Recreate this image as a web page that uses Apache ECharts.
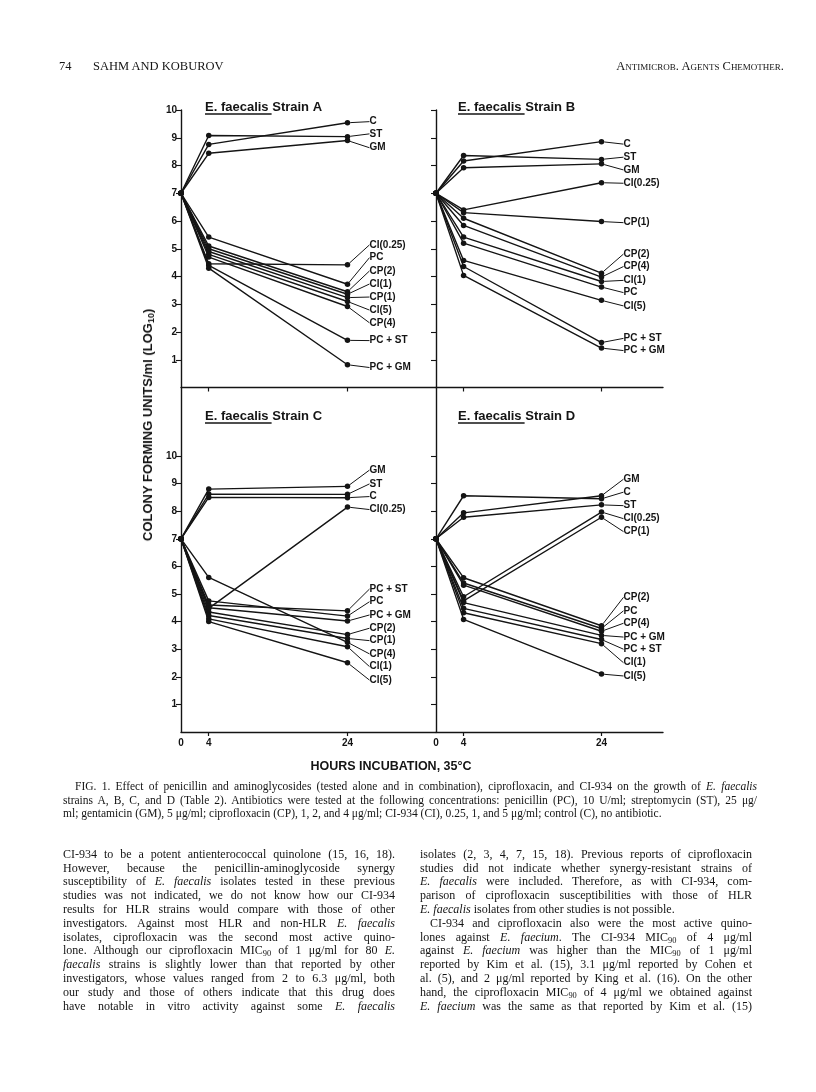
<!DOCTYPE html>
<html>
<head>
<meta charset="utf-8">
<script src="https://cdn.jsdelivr.net/npm/echarts@6/dist/echarts.min.js"></script>
<style>
  html, body { margin: 0; padding: 0; background: #fff; }
  #page { position: relative; width: 816px; height: 1092px; overflow: hidden; background: #fff; }
  #chart { position: absolute; left: 0; top: 0; width: 816px; height: 1092px; }
  .ln { position: absolute; font-family: "Liberation Serif", "DejaVu Serif", serif; color: #141414; white-space: nowrap; }
  .ln > span { display: inline-block; white-space: nowrap; transform-origin: 0 50%; }
  #yname { position: absolute; left: 148px; top: 425px; transform: translate(-50%, -50%) rotate(-90deg);
           font-family: "Liberation Sans", Arial, sans-serif; font-weight: bold; font-size: 13px; color: #141414; white-space: nowrap; }
  #yname sub { font-size: 9px; vertical-align: -2px; }
</style>
</head>
<body>
<div id="page">
  <div id="chart"></div>
  <div id="yname">COLONY FORMING UNITS/ml (LOG<sub>10</sub>)</div>
</div>
<script>
// ---------------- DATA ----------------
const hours = [0, 4, 24];
const startLog = 7;

// Strain A
const namesA = ['C', 'ST', 'GM', 'CI(0.25)', 'PC', 'CP(2)', 'CI(1)', 'CP(1)', 'CI(5)', 'CP(4)', 'PC + ST', 'PC + GM'];
const h4A    = [8.76, 9.08, 8.44, 4.46, 5.42, 5.10, 5.00, 4.90, 4.80, 4.70, 4.40, 4.30];
const h24A   = [9.54, 9.04, 8.90, 4.42, 3.72, 3.45, 3.36, 3.24, 3.10, 2.92, 1.70, 0.82];

// Strain B
const namesB = ['C', 'ST', 'GM', 'CI(0.25)', 'CP(1)', 'CP(2)', 'CP(4)', 'CI(1)', 'PC', 'CI(5)', 'PC + ST', 'PC + GM'];
const h4B    = [8.16, 8.36, 7.92, 6.40, 6.30, 6.10, 5.84, 5.42, 5.20, 4.58, 4.36, 4.04];
const h24B   = [8.86, 8.22, 8.06, 7.38, 5.98, 4.12, 3.98, 3.82, 3.62, 3.14, 1.62, 1.42];

// Strain C
const namesC = ['GM', 'ST', 'C', 'CI(0.25)', 'PC + ST', 'PC', 'PC + GM', 'CP(2)', 'CP(1)', 'CP(4)', 'CI(1)', 'CI(5)'];
const h4C    = [8.80, 8.62, 8.50, 4.48, 4.60, 4.75, 4.50, 4.35, 4.22, 5.60, 4.10, 4.00];
const h24C   = [8.90, 8.61, 8.49, 8.15, 4.39, 4.20, 4.02, 3.53, 3.39, 3.25, 3.09, 2.51];

// Strain D
const namesD = ['GM', 'C', 'ST', 'CI(0.25)', 'CP(1)', 'CP(2)', 'PC', 'CP(4)', 'PC + GM', 'PC + ST', 'CI(1)', 'CI(5)'];
const h4D    = [7.94, 8.56, 7.78, 4.90, 4.75, 5.59, 5.40, 5.32, 4.69, 4.48, 4.32, 4.08];
const h24D   = [8.56, 8.45, 8.23, 7.97, 7.78, 3.85, 3.75, 3.65, 3.50, 3.35, 3.20, 2.10];

const yTickValues = [1, 2, 3, 4, 5, 6, 7, 8, 9, 10];
const xTickValues = [4, 24];
const xLabelValues = [0, 4, 24];

// ---------------- LAYOUT (positions of series labels, in log units) ----------------
const labelPosA = [9.58, 9.14, 8.64, 5.14, 4.68, 4.20, 3.73, 3.26, 2.79, 2.33, 1.69, 0.72];
const labelPosB = [8.77, 8.30, 7.84, 7.36, 5.94, 4.81, 4.36, 3.86, 3.42, 2.94, 1.77, 1.33];
const labelPosC = [9.49, 8.99, 8.53, 8.06, 5.18, 4.72, 4.24, 3.76, 3.31, 2.83, 2.37, 1.88];
const labelPosD = [9.16, 8.69, 8.20, 7.73, 7.26, 4.88, 4.39, 3.94, 3.44, 3.00, 2.51, 2.03];

const SANS = '"Liberation Sans", Arial, sans-serif';
const INK = '#141414';

const panels = [
  { names: namesA, h4: h4A, h24: h24A, lab: labelPosA, title: 'E. faecalis Strain A',
    grid: { left: 181, top: 110, width: 255, height: 277.5 }, xmax: 36.76, ymax: 10, yLab: true, xLab: false, tx: 205, ty: 101, uy: 114 },
  { names: namesB, h4: h4B, h24: h24B, lab: labelPosB, title: 'E. faecalis Strain B',
    grid: { left: 436, top: 110, width: 227, height: 277.5 }, xmax: 32.92, ymax: 10, yLab: false, xLab: false, tx: 458, ty: 101, uy: 114 },
  { names: namesC, h4: h4C, h24: h24C, lab: labelPosC, title: 'E. faecalis Strain C',
    grid: { left: 181, top: 388, width: 255, height: 344 }, xmax: 36.76, ymax: 12.464, yLab: true, xLab: true, tx: 205, ty: 410, uy: 423 },
  { names: namesD, h4: h4D, h24: h24D, lab: labelPosD, title: 'E. faecalis Strain D',
    grid: { left: 436, top: 388, width: 227, height: 344 }, xmax: 32.92, ymax: 12.464, yLab: false, xLab: true, tx: 458, ty: 410, uy: 423 }
];

function textWidth(t, font) {
  const c = document.createElement('canvas').getContext('2d');
  c.font = font;
  return c.measureText(t).width;
}
const uw = textWidth('E. faecalis', 'bold 13px "Liberation Sans"') + 3;

const grids = panels.map(p => Object.assign({ outerBoundsMode: 'none', containLabel: false }, p.grid));
const axisLineStyle = { color: INK, width: 1.4 };

const xAxes = panels.map((p, i) => ({
  type: 'value', gridIndex: i, min: 0, max: p.xmax, interval: 4,
  axisLine: { show: true, onZero: false, lineStyle: axisLineStyle },
  axisTick: { show: true, customValues: xTickValues, length: 4, inside: false, lineStyle: { color: INK, width: 1.2 } },
  axisLabel: { show: p.xLab, customValues: xLabelValues, color: INK, fontFamily: SANS, fontSize: 10, fontWeight: 'bold', margin: 6 },
  splitLine: { show: false }
}));

const yAxes = panels.map((p, i) => ({
  type: 'value', gridIndex: i, min: 0, max: p.ymax, interval: 1,
  axisLine: { show: true, onZero: false, lineStyle: axisLineStyle },
  axisTick: { show: true, customValues: yTickValues, length: 5, inside: false, lineStyle: { color: INK, width: 1.1 } },
  axisLabel: { show: p.yLab, customValues: yTickValues, color: INK, fontFamily: SANS, fontSize: 10, fontWeight: 'bold', margin: 4 },
  splitLine: { show: false }
}));

const series = [];
panels.forEach((p, i) => {
  p.names.forEach((nm, k) => {
    const labY = p.grid.top + p.grid.height * (1 - p.lab[k] / p.ymax);
    series.push({
      type: 'line', name: nm, xAxisIndex: i, yAxisIndex: i,
      data: [[hours[0], startLog], [hours[1], p.h4[k]], { value: [hours[2], p.h24[k]], label: { show: true } }],
      symbol: 'circle', symbolSize: 5.5, showSymbol: true,
      lineStyle: { color: INK, width: 1.4 },
      itemStyle: { color: INK },
      label: { show: false, formatter: nm, color: INK, fontFamily: SANS, fontSize: 10, fontWeight: 'bold' },
      labelLine: { show: true, lineStyle: { color: INK, width: 1 } },
      labelLayout: function (params) {
        if (params.dataIndex !== 2) return {};
        return { x: params.rect.x + params.rect.width / 2 + 22, y: labY, align: 'left', verticalAlign: 'middle' };
      },
      emphasis: { disabled: true },
      silent: true,
      animation: false
    });
  });
});

const titles = panels.map(p => ({
  text: p.title, left: p.tx, top: p.ty, padding: 0,
  textStyle: { fontFamily: SANS, fontSize: 13, fontWeight: 'bold', color: INK }
}));

const graphic = panels.map(p => ({
  type: 'line', silent: true,
  shape: { x1: p.tx, y1: p.uy, x2: p.tx + uw, y2: p.uy },
  style: { stroke: INK, lineWidth: 1.3 }
}));
graphic.push({
  type: 'text', x: 391, y: 767, silent: true,
  style: { text: 'HOURS INCUBATION, 35°C', fill: INK, font: 'bold 12.5px "Liberation Sans"', align: 'center', verticalAlign: 'middle' }
});

const chart = echarts.init(document.getElementById('chart'), null, { renderer: 'canvas' });
chart.setOption({
  animation: false,
  backgroundColor: 'transparent',
  title: titles,
  grid: grids,
  xAxis: xAxes,
  yAxis: yAxes,
  series: series,
  graphic: graphic
});

// ---------------- PAGE TEXT ----------------
const headerLines = [
  { html: '74', x: 59, y: 66, size: 12.5 },
  { html: 'SAHM AND KOBUROV', x: 93, y: 66, size: 12.5 },
];
const captionLines = [
  'FIG. 1. Effect of penicillin and aminoglycosides (tested alone and in combination), ciprofloxacin, and CI-934 on the growth of <i>E. faecalis</i>',
  'strains A, B, C, and D (Table 2). Antibiotics were tested at the following concentrations: penicillin (PC), 10 U/ml; streptomycin (ST), 25 μg/',
  'ml; gentamicin (GM), 5 μg/ml; ciprofloxacin (CP), 1, 2, and 4 μg/ml; CI-934 (CI), 0.25, 1, and 5 μg/ml; control (C), no antibiotic.'
];
const leftColLines = [
  'CI-934 to be a potent antienterococcal quinolone (15, 16, 18).',
  'However, because the penicillin-aminoglycoside synergy',
  'susceptibility of <i>E. faecalis</i> isolates tested in these previous',
  'studies was not indicated, we do not know how our CI-934',
  'results for HLR strains would compare with those of other',
  'investigators. Against most HLR and non-HLR <i>E. faecalis</i>',
  'isolates, ciprofloxacin was the second most active quino-',
  'lone. Although our ciprofloxacin MIC<sub>90</sub> of 1 μg/ml for 80 <i>E.</i>',
  '<i>faecalis</i> strains is slightly lower than that reported by other',
  'investigators, whose values ranged from 2 to 6.3 μg/ml, both',
  'our study and those of others indicate that this drug does',
  'have notable in vitro activity against some <i>E. faecalis</i>'
];
const rightColLines = [
  'isolates (2, 3, 4, 7, 15, 18). Previous reports of ciprofloxacin',
  'studies did not indicate whether synergy-resistant strains of',
  '<i>E. faecalis</i> were included. Therefore, as with CI-934, com-',
  'parison of ciprofloxacin susceptibilities with those of HLR',
  '<i>E. faecalis</i> isolates from other studies is not possible.',
  'CI-934 and ciprofloxacin also were the most active quino-',
  'lones against <i>E. faecium</i>. The CI-934 MIC<sub>90</sub> of 4 μg/ml',
  'against <i>E. faecium</i> was higher than the MIC<sub>90</sub> of 1 μg/ml',
  'reported by Kim et al. (15), 3.1 μg/ml reported by Cohen et',
  'al. (5), and 2 μg/ml reported by King et al. (16). On the other',
  'hand, the ciprofloxacin MIC<sub>90</sub> of 4 μg/ml we obtained against',
  '<i>E. faecium</i> was the same as that reported by Kim et al. (15)'
];

const page = document.getElementById('page');
const blocks = [];
function addLine(block, html, x, yc, w, size, justify) {
  const d = document.createElement('div');
  d.className = 'ln';
  d.style.left = x + 'px';
  d.style.top = (yc - size * 0.6) + 'px';
  d.style.fontSize = size + 'px';
  d.style.lineHeight = (size * 1.2) + 'px';
  d.dataset.w = w;
  d.dataset.j = justify ? '1' : '0';
  const s = document.createElement('span');
  s.innerHTML = html;
  s.querySelectorAll('sub').forEach(e => { e.style.fontSize = '0.7em'; e.style.verticalAlign = '-0.25em'; e.style.lineHeight = '0'; });
  d.appendChild(s);
  page.appendChild(d);
  block.push(d);
}
// header
const hb = [];
headerLines.forEach(h => addLine(hb, h.html, h.x, h.y, 0, h.size, false));
const rh = document.createElement('div');
rh.className = 'ln';
rh.style.right = (816 - 784) + 'px';
rh.style.top = (66 - 7.5) + 'px';
rh.style.fontSize = '12.5px';
rh.style.fontVariant = 'small-caps';
rh.innerHTML = '<span>Antimicrob. Agents Chemother.</span>';
page.appendChild(rh);

// caption
const cb = [];
const capSize = 11.5;
addLine(cb, captionLines[0], 75, 787, 757 - 75, capSize, true);
addLine(cb, captionLines[1], 63, 800.5, 757 - 63, capSize, true);
addLine(cb, captionLines[2], 63, 814, 757 - 63, capSize, false);
blocks.push(cb);

// body
const bb = [];
const bodySize = 12;
const bodyY0 = 854, bodyDy = 13.8;
leftColLines.forEach((t, i) => addLine(bb, t, 63, bodyY0 + i * bodyDy, 395 - 63, bodySize, true));
rightColLines.forEach((t, i) => {
  const indent = (i === 5) ? 10 : 0;
  addLine(bb, t, 420 + indent, bodyY0 + i * bodyDy, 752 - 420 - indent, bodySize, i !== 4);
});
blocks.push(bb);

function fitBlocks() {
  blocks.forEach(lines => {
    const ratios = [];
    lines.forEach(l => {
      const s = l.firstElementChild;
      s.style.transform = ''; s.style.wordSpacing = '';
      l._n = s.getBoundingClientRect().width;
      if (l.dataset.j === '1') ratios.push(parseFloat(l.dataset.w) / l._n);
    });
    ratios.sort((a, b) => a - b);
    const sc = ratios.length ? Math.min(1, ratios[Math.floor(ratios.length / 2)]) : 1;
    lines.forEach(l => {
      const s = l.firstElementChild, W = parseFloat(l.dataset.w), n = l._n;
      if (l.dataset.j === '1') {
        if (n * sc > W) {
          s.style.transform = 'scaleX(' + (W / n) + ')';
        } else {
          s.style.transform = 'scaleX(' + sc + ')';
          const sp = (s.textContent.match(/ /g) || []).length;
          if (sp) s.style.wordSpacing = ((W / sc - n) / sp) + 'px';
        }
      } else {
        s.style.transform = 'scaleX(' + sc + ')';
      }
    });
  });
}
fitBlocks();
if (document.fonts && document.fonts.ready) document.fonts.ready.then(fitBlocks);
</script>
</body>
</html>
